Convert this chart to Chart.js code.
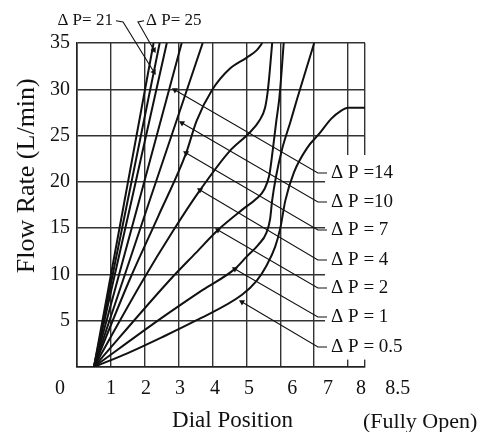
<!DOCTYPE html>
<html>
<head>
<meta charset="utf-8">
<script src="https://cdn.jsdelivr.net/npm/chart.js@4/dist/chart.umd.min.js"></script>
<style>
  html, body { margin: 0; padding: 0; background: #fff; }
</style>
</head>
<body>
<canvas id="flowChart" width="490" height="432"></canvas>
<script>
const FONT = '"Liberation Serif", "DejaVu Serif", serif';
const INK = '#111';

// curves: dial position -> flow rate (L/min)
const dp25Dial = [0.5, 1.38, 2.26];
const dp25Flow = [0, 17.5, 35];
const dp21Dial = [0.5, 1.47, 2.44];
const dp21Flow = [0, 17.5, 35];
const unlabeledDial = [0.5, 1.58, 2.65];
const unlabeledFlow = [0, 17.5, 35];
const dp14Dial = [0.5, 1.8, 3.09];
const dp14Flow = [0, 17.5, 35];
const dp10Dial = [0.5, 2.1, 3.71];
const dp10Flow = [0, 17.5, 35];
const dp7Dial = [0.5, 1.55, 2.4, 3.22, 3.53, 4.0, 4.5, 5.0, 5.3, 5.47];
const dp7Flow = [0, 9.4, 16.3, 23.1, 26.6, 30.0, 32.2, 33.4, 34.2, 35];
const dp4Dial = [0.5, 1.95, 2.8, 3.63, 4.5, 5.09, 5.38, 5.55, 5.63, 5.69, 5.76];
const dp4Flow = [0, 9.4, 14.5, 19.1, 23.3, 25.3, 26.6, 28.0, 29.8, 32.0, 35];
const dp2Dial = [0.5, 2.74, 3.5, 4.16, 4.88, 5.3, 5.53, 5.68, 5.78, 5.88, 5.97, 6.04, 6.1];
const dp2Flow = [0, 9.4, 12.3, 14.8, 17.0, 18.2, 19.2, 20.8, 23.5, 26.5, 29.0, 32.0, 35];
const dp1Dial = [0.5, 2.5, 3.7, 4.66, 5.0, 5.35, 5.59, 5.7, 5.76, 5.87, 6.05, 6.3, 6.5, 6.75, 7.0];
const dp1Flow = [0, 5.3, 8.3, 10.6, 11.9, 13.2, 14.5, 16.0, 18.0, 20.5, 23.5, 26.5, 29.0, 32.0, 35];
const dp05Dial = [0.5, 1.5, 2.5, 3.5, 4.87, 5.3, 5.6, 5.85, 6.0, 6.15, 6.4, 6.8, 7.15, 7.5, 7.8, 8.0, 8.5];
const dp05Flow = [0, 1.5, 3.2, 5.0, 7.8, 9.3, 11.0, 13.0, 15.0, 18.0, 21.0, 23.7, 25.2, 26.8, 27.7, 28.0, 28.0];

// axes
const xGridTicks = [0, 1, 2, 3, 4, 5, 6, 7, 8, 8.5];
const xTickLabels = ['0', '1', '2', '3', '4', '5', '6', '7', '8', '8.5'];
const xLabelTicks = [-0.5, 1.0, 2.04, 3.04, 4.07, 5.08, 6.35, 7.41, 8.38, 9.47];
const yTicks = [0, 5, 10, 15, 20, 25, 30, 35];
const yTickLabels = ['', '5', '10', '15', '20', '25', '30', '35'];

// pressure-drop labels with leader lines
const rightLabels = ['\u0394 P =14', '\u0394 P =10', '\u0394 P = 7', '\u0394 P = 4', '\u0394 P = 2', '\u0394 P = 1', '\u0394 P = 0.5'];
const rightLabelFlow = [20.96, 17.82, 14.8, 11.56, 8.53, 5.40, 2.16];
const rightArrowDial = [2.89, 3.10, 3.22, 3.63, 4.16, 4.66, 4.87];
const rightArrowFlow = [29.92, 26.36, 23.12, 19.12, 14.8, 10.59, 7.02];
const rightElbowDial = 7.11;
const rightDashDial = 7.38;
const rightTextDial = 7.5;

const topLabels = ['\u0394 P= 21', '\u0394 P= 25'];
const topArrowDial = [2.27, 2.27];
const topArrowFlow = [31.87, 34.25];
const topElbowDial = [1.36, 1.80];
const topDashDial = [1.15, 1.98];
const topTextDial = [1.06, 2.04];
const topLabelFlow = 37.4;

// blank patch of the grid behind the right-hand labels
const maskDial = 7.32;
const maskTopFlow = 22.9;
const maskBottomFlow = 0.8;

const toPoints = (xs, ys) => xs.map((v, i) => ({x: v, y: ys[i]}));

function curve(xs, ys) {
    return {
        data: toPoints(xs, ys),
        borderColor: INK,
        borderWidth: 2,
        pointRadius: 0,
        cubicInterpolationMode: 'monotone',
        fill: false
    };
}

function arrowRotation(ctx) {
    const pts = ctx.dataset.data;
    const sx = ctx.chart.scales.x;
    const sy = ctx.chart.scales.y;
    const dx = sx.getPixelForValue(pts[0].x) - sx.getPixelForValue(pts[1].x);
    const dy = sy.getPixelForValue(pts[0].y) - sy.getPixelForValue(pts[1].y);
    return Math.atan2(dy, dx) * 180 / Math.PI + 90;
}

function leader(points) {
    return {
        data: points,
        borderColor: INK,
        borderWidth: 1.1,
        tension: 0,
        clip: false,
        pointStyle: 'triangle',
        pointRadius: ctx => ctx.dataIndex === 0 ? 3.5 : 0,
        pointBackgroundColor: INK,
        pointBorderWidth: 0,
        pointRotation: arrowRotation
    };
}

const datasets = [
    curve(dp25Dial, dp25Flow),
    curve(dp21Dial, dp21Flow),
    curve(unlabeledDial, unlabeledFlow),
    curve(dp14Dial, dp14Flow),
    curve(dp10Dial, dp10Flow),
    curve(dp7Dial, dp7Flow),
    curve(dp4Dial, dp4Flow),
    curve(dp2Dial, dp2Flow),
    curve(dp1Dial, dp1Flow),
    curve(dp05Dial, dp05Flow)
];

rightLabels.forEach((_, i) => {
    datasets.push(leader([
        {x: rightArrowDial[i], y: rightArrowFlow[i]},
        {x: rightElbowDial, y: rightLabelFlow[i]},
        {x: rightDashDial, y: rightLabelFlow[i]}
    ]));
});
topLabels.forEach((_, i) => {
    datasets.push(leader([
        {x: topArrowDial[i], y: topArrowFlow[i]},
        {x: topElbowDial[i], y: topLabelFlow - 0.13},
        {x: topDashDial[i], y: topLabelFlow}
    ]));
});

const labelPlugin = {
    id: 'pressureLabels',
    beforeDatasetsDraw(chart) {
        const {ctx, chartArea, scales: {x, y}} = chart;
        const left = x.getPixelForValue(maskDial);
        const top = y.getPixelForValue(maskTopFlow);
        const bottom = y.getPixelForValue(maskBottomFlow);
        ctx.save();
        ctx.fillStyle = '#fff';
        ctx.fillRect(left, top, chartArea.right + 4 - left, bottom - top);
        ctx.restore();
    },
    afterDatasetsDraw(chart) {
        const {ctx, chartArea, scales: {x, y}} = chart;
        ctx.save();
        ctx.fillStyle = INK;
        ctx.textBaseline = 'middle';
        ctx.font = '19px ' + FONT;
        ctx.textAlign = 'left';
        rightLabels.forEach((t, i) => {
            ctx.fillText(t, x.getPixelForValue(rightTextDial), y.getPixelForValue(rightLabelFlow[i]));
        });
        ctx.font = '17px ' + FONT;
        ctx.textAlign = 'right';
        ctx.fillText(topLabels[0], x.getPixelForValue(topTextDial[0]), y.getPixelForValue(topLabelFlow));
        ctx.textAlign = 'left';
        ctx.fillText(topLabels[1], x.getPixelForValue(topTextDial[1]), y.getPixelForValue(topLabelFlow));
        ctx.font = '22px ' + FONT;
        ctx.fillText('(Fully Open)', x.getPixelForValue(8.44), chartArea.bottom + 55);
        ctx.restore();
    }
};

const gridStyle = {color: '#333', lineWidth: 1.4, drawTicks: false};

new Chart(document.getElementById('flowChart'), {
    type: 'line',
    data: {datasets},
    plugins: [labelPlugin],
    options: {
        responsive: false,
        animation: false,
        layout: {padding: {left: 8, right: 125, top: 43, bottom: 0}},
        plugins: {legend: {display: false}, tooltip: {enabled: false}},
        scales: {
            x: {
                type: 'linear',
                position: 'bottom',
                min: 0,
                max: 8.5,
                weight: 0,
                afterBuildTicks: s => { s.ticks = xGridTicks.map(v => ({value: v})); },
                afterFit: s => { s.height = 0; },
                ticks: {display: false},
                grid: gridStyle,
                border: {display: true, color: '#222', width: 1.6}
            },
            xl: {
                type: 'linear',
                position: 'bottom',
                min: 0,
                max: 8.5,
                weight: 1,
                afterBuildTicks: s => { s.ticks = xLabelTicks.map(v => ({value: v})); },
                afterFit: s => { s.height = 65; },
                grid: {display: false},
                border: {display: false},
                ticks: {
                    autoSkip: false,
                    maxRotation: 0,
                    padding: 2,
                    color: INK,
                    font: {family: FONT, size: 20},
                    callback: (v, i) => xTickLabels[i]
                },
                title: {
                    display: true,
                    text: '    Dial Position',
                    color: INK,
                    font: {family: FONT, size: 23},
                    padding: {top: 0, bottom: -3}
                }
            },
            y: {
                type: 'linear',
                min: 0,
                max: 35,
                afterBuildTicks: s => { s.ticks = yTicks.map(v => ({value: v})); },
                afterFit: s => { s.width = 69; },
                grid: gridStyle,
                border: {display: true, color: '#222', width: 1.6},
                ticks: {
                    autoSkip: false,
                    padding: 7,
                    color: INK,
                    font: {family: FONT, size: 20},
                    callback: (v, i) => yTickLabels[i]
                },
                title: {
                    display: true,
                    text: '         Flow Rate (L/min)',
                    color: INK,
                    font: {family: FONT, size: 26},
                    padding: {top: 4, bottom: 0}
                }
            }
        }
    }
});
</script>
</body>
</html>
